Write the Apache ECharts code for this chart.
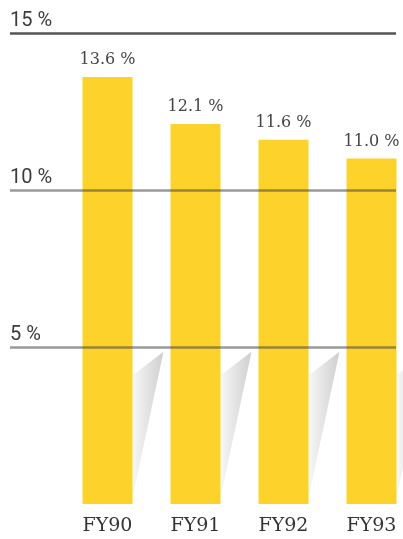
<!DOCTYPE html>
<html><head><meta charset="utf-8">
<script src="https://cdn.jsdelivr.net/npm/echarts@6/dist/echarts.min.js"></script>
<style>html,body{margin:0;padding:0;background:#fff}#c{width:403px;height:539px}</style>
</head><body><div id="c"></div>
<script>
const categories = ['FY90', 'FY91', 'FY92', 'FY93'];
const values = [13.6, 12.1, 11.6, 11.0];
const valueLabels = ['13.6 %', '12.1 %', '11.6 %', '11.0 %'];
const yTicks = [0, 5, 10, 15];
const yTickLabels = ['', '5 %', '10 %', '15 %'];

const chart = echarts.init(document.getElementById('c'), null, {renderer: 'canvas'});
const TOP = 33, BOTTOM = 35;
chart.setOption({
  animation: false,
  backgroundColor: '#fff',
  grid: [
    {left: 63.5, width: 352, top: TOP, bottom: BOTTOM, outerBoundsMode: 'none', containLabel: false},
    {left: 10, right: 7, top: TOP, bottom: BOTTOM}
  ],
  xAxis: [
    {type: 'category', gridIndex: 0, data: categories,
     axisLine: {show: false}, axisTick: {show: false},
     axisLabel: {margin: 13, fontFamily: 'DejaVu Serif', fontSize: 19, color: '#333'}},
    {type: 'value', gridIndex: 1, show: false, min: 0, max: 1}
  ],
  yAxis: [
    {type: 'value', gridIndex: 0, min: 0, max: 15, interval: 5, show: false},
    {type: 'value', gridIndex: 1, min: 0, max: 15, interval: 5, z: 10,
     axisLine: {show: false}, axisTick: {show: false},
     axisLabel: {inside: true, verticalAlign: 'bottom', margin: 0, padding: [0, 0, 2, 0],
       fontFamily: 'Liberation Sans Narrow, Roboto, sans-serif', fontSize: 20, color: '#3c3c3c',
       formatter: function (v) { return yTickLabels[yTicks.indexOf(v)]; }},
     splitLine: {show: true, lineStyle: {width: 2.5,
       color: ['rgba(0,0,0,0)', 'rgba(70,70,70,0.55)', 'rgba(70,70,70,0.55)', '#555']}}}
  ],
  series: [
    {type: 'custom', xAxisIndex: 0, yAxisIndex: 0, z: 1,
     data: categories.map(function (c, i) { return [i]; }),
     encode: {x: 0},
     renderItem: function (params, api) {
       const base = api.coord([api.value(0), 0]);
       const xR = base[0] + 25;
       const yA = api.coord([api.value(0), 4.1])[1];
       const yB = api.coord([api.value(0), 4.85])[1];
       const yC = api.coord([api.value(0), 0.2])[1];
       return {type: 'polygon', shape: {points: [[xR, yA], [xR + 31, yB], [xR, yC]]},
         style: {fill: new echarts.graphic.LinearGradient(0, 0, 1, 0, [
           {offset: 0, color: '#f7f7f7'}, {offset: 1, color: '#cfcfcf'}])}};
     }},
    {type: 'bar', xAxisIndex: 0, yAxisIndex: 0, z: 2, data: values, barWidth: 50,
     itemStyle: {color: '#fcd22b'},
     label: {show: true, position: 'top', distance: 9,
       fontFamily: 'DejaVu Serif', fontSize: 16, color: '#444',
       formatter: function (p) { return valueLabels[p.dataIndex]; }}}
  ]
});
</script></body></html>
